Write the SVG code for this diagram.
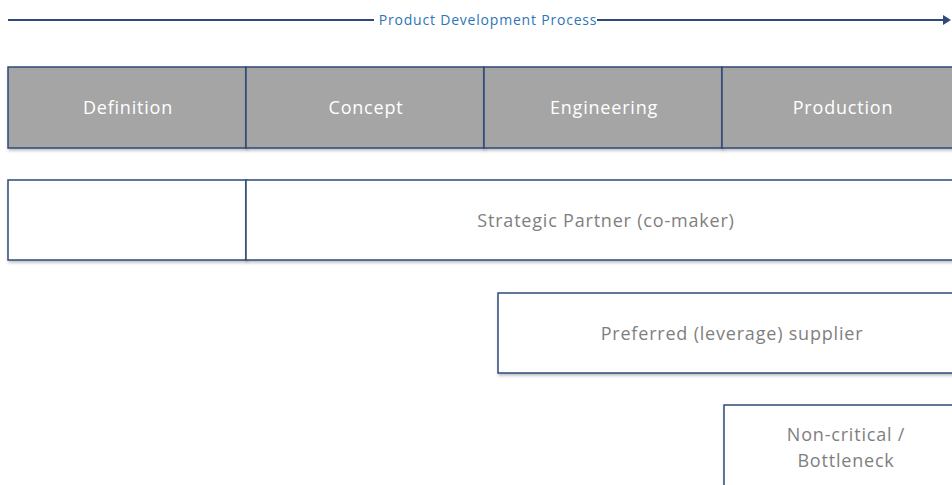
<svg xmlns="http://www.w3.org/2000/svg" width="952" height="485" viewBox="0 0 952 485">
<style>
.hdr{fill:#A5A5A5;stroke:#2F4A7A;stroke-width:1.5}
.box{fill:#FFFFFF;stroke:#2F4A7A;stroke-width:1.5}
.ht{font-family:"Open Sans","Noto Sans",sans-serif;font-size:18px;letter-spacing:0.8px;fill:#FFFFFF;text-anchor:middle}
.bt{font-family:"Open Sans","Noto Sans",sans-serif;font-size:18px;letter-spacing:0.8px;fill:#7F7F7F;text-anchor:middle}
.tt{font-family:"Open Sans","Noto Sans",sans-serif;font-size:14px;letter-spacing:0.8px;fill:#2E75B6;text-anchor:middle}
.ln{stroke:#2F4A7A;stroke-width:2;fill:none}
</style>
<defs>
<filter id="sh" x="-5%" y="-10%" width="110%" height="130%">
<feDropShadow dx="1" dy="2" stdDeviation="1.5" flood-color="#000" flood-opacity="0.25"/>
</filter>
<marker id="ah" markerWidth="8" markerHeight="10" refX="1" refY="5" orient="auto" markerUnits="userSpaceOnUse">
<path d="M0,0 L8,5 L0,10 Z" fill="#2F4A7A"/>
</marker>
</defs>
<g id="connectors">
<line class="ln" x1="8" y1="20" x2="374" y2="20"/>
<line class="ln" x1="597" y1="20" x2="944" y2="20" marker-end="url(#ah)"/>
</g>
<g id="title"><text class="tt" x="488" y="25">Product Development Process</text></g>
<g id="definition"><rect class="hdr" filter="url(#sh)" x="8" y="67" width="238" height="81"/><text class="ht" x="128" y="114">Definition</text></g>
<g id="concept"><rect class="hdr" filter="url(#sh)" x="246" y="67" width="238" height="81"/><text class="ht" x="366" y="114">Concept</text></g>
<g id="engineering"><rect class="hdr" filter="url(#sh)" x="484" y="67" width="238" height="81"/><text class="ht" x="604" y="114">Engineering</text></g>
<g id="production"><rect class="hdr" filter="url(#sh)" x="722" y="67" width="240" height="81"/><text class="ht" x="843" y="114">Production</text></g>
<g id="empty"><rect class="box" filter="url(#sh)" x="8" y="180" width="238" height="80"/></g>
<g id="strategic"><rect class="box" filter="url(#sh)" x="246" y="180" width="718" height="80"/><text class="bt" x="606" y="227">Strategic Partner (co-maker)</text></g>
<g id="preferred"><rect class="box" filter="url(#sh)" x="498" y="293" width="466" height="80"/><text class="bt" x="732" y="340">Preferred (leverage) supplier</text></g>
<g id="noncritical"><rect class="box" filter="url(#sh)" x="724" y="405" width="242" height="90"/><text class="bt" x="846" y="441">Non-critical /</text><text class="bt" x="846" y="467">Bottleneck</text></g>
</svg>
